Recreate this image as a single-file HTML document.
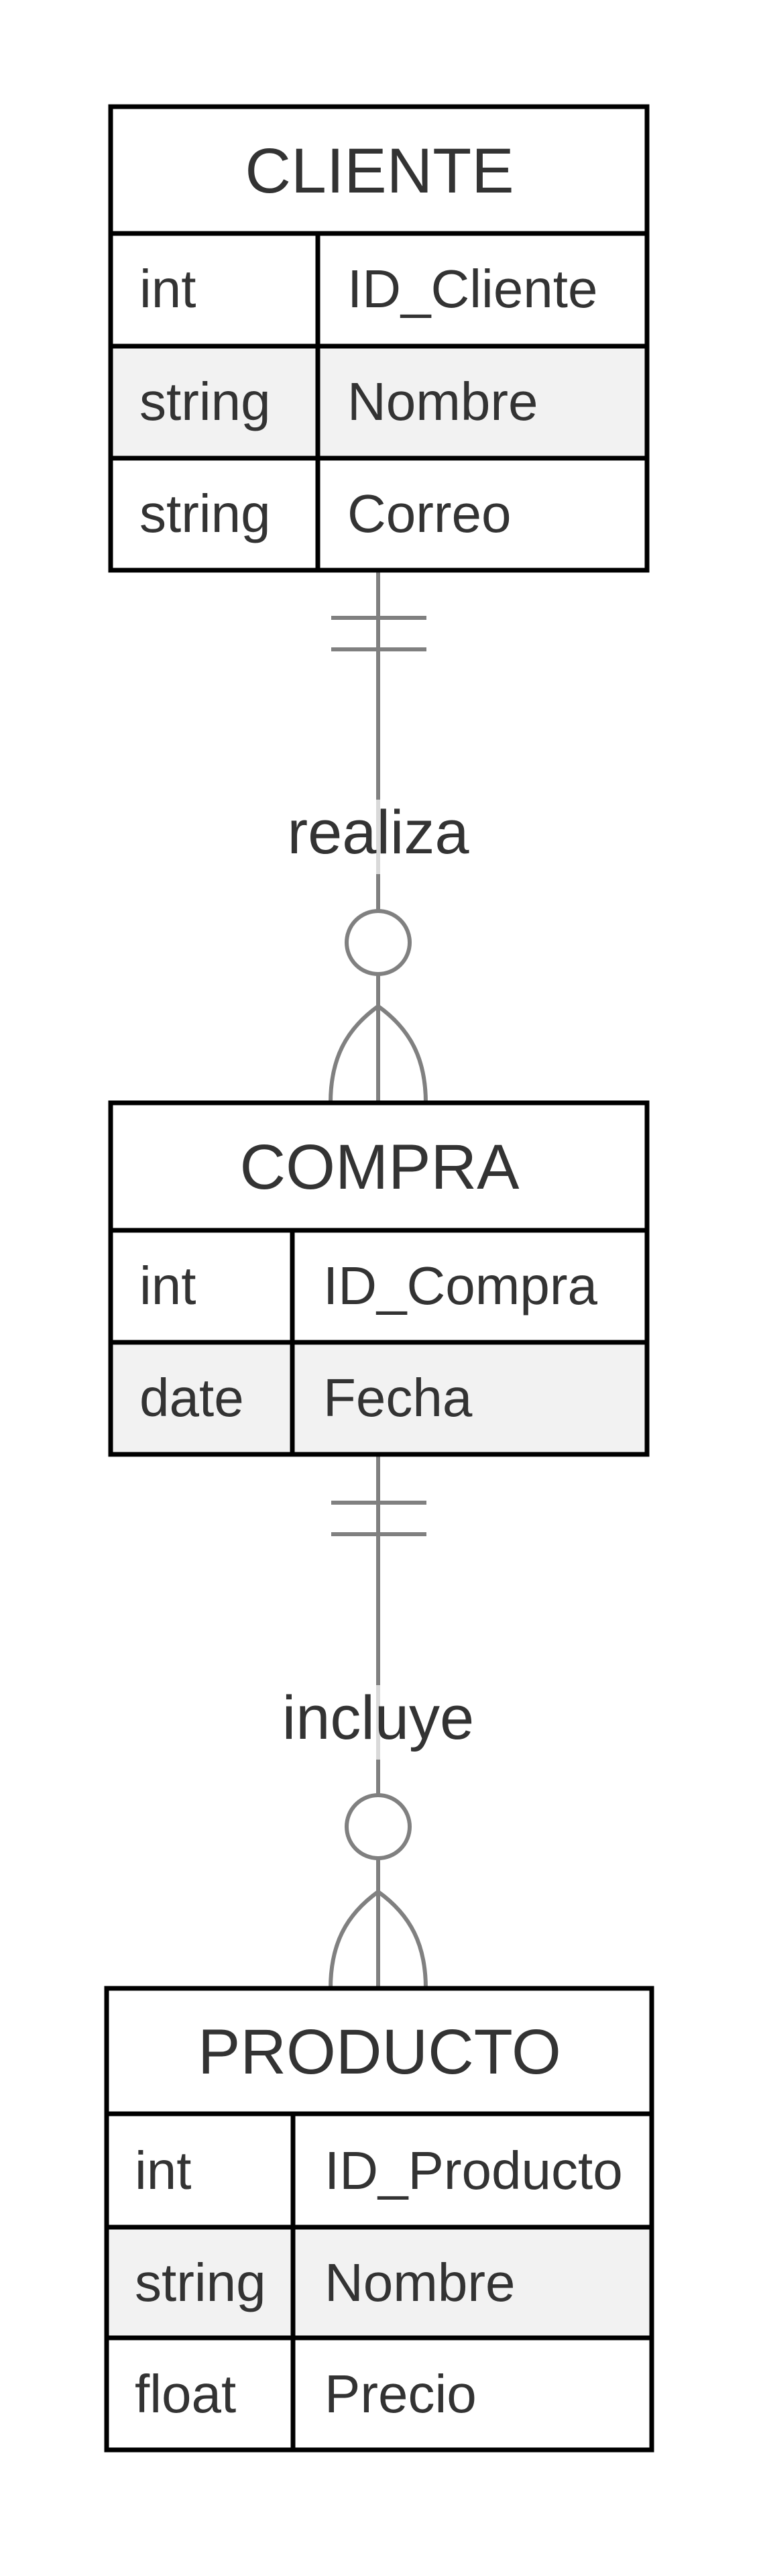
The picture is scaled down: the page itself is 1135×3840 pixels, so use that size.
<!DOCTYPE html>
<html><head><meta charset="utf-8"><style>
html,body{margin:0;padding:0;background:#fff;}
svg{display:block;}
text{font-family:"Liberation Sans",Arial,sans-serif;fill:#333;}
</style></head><body>
<svg width="1135" height="3840" viewBox="0 0 1135 3840" xmlns="http://www.w3.org/2000/svg">
<rect width="1135" height="3840" fill="#fff"/>
<g stroke="#808080" stroke-width="6" fill="none">
  <line x1="564" y1="850" x2="564" y2="1644"/>
  <line x1="494" y1="921" x2="636" y2="921"/>
  <line x1="494" y1="968" x2="636" y2="968"/>
  <circle cx="564" cy="1405" r="47" fill="#fff"/>
  <path d="M564,1500 C515,1535 493,1580 493,1644"/>
  <path d="M564,1500 C613,1535 635,1580 635,1644"/>
  <line x1="564" y1="2168" x2="564" y2="2964"/>
  <line x1="494" y1="2240" x2="636" y2="2240"/>
  <line x1="494" y1="2287" x2="636" y2="2287"/>
  <circle cx="564" cy="2723" r="47" fill="#fff"/>
  <path d="M564,2820 C515,2855 493,2900 493,2964"/>
  <path d="M564,2820 C613,2855 635,2900 635,2964"/>
</g>
<rect x="540" y="1192" width="50" height="111" fill="#fff" fill-opacity="0.7"/>
<rect x="540" y="2512" width="50" height="111" fill="#fff" fill-opacity="0.7"/>
<text x="564" y="1272" font-size="92" text-anchor="middle">realiza</text>
<text x="564" y="2592" font-size="92" text-anchor="middle">incluye</text>

<!-- CLIENTE -->
<g stroke="#000" stroke-width="7">
  <rect x="165" y="159" width="800" height="691" fill="#fff"/>
  <rect x="165" y="516" width="800" height="167" fill="#f2f2f2"/>
  <line x1="165" y1="348" x2="965" y2="348"/>
  <line x1="474" y1="348" x2="474" y2="850"/>
</g>
<text x="566" y="287" font-size="95" text-anchor="middle">CLIENTE</text>
<g font-size="80">
<text x="208" y="458">int</text><text x="518" y="458">ID_Cliente</text>
<text x="208" y="626">string</text><text x="518" y="626">Nombre</text>
<text x="208" y="793">string</text><text x="518" y="793">Correo</text>
</g>

<!-- COMPRA -->
<g stroke="#000" stroke-width="7">
  <rect x="165" y="1644" width="800" height="524" fill="#fff"/>
  <rect x="165" y="2001" width="800" height="167" fill="#f2f2f2"/>
  <line x1="165" y1="1834" x2="965" y2="1834"/>
  <line x1="436" y1="1834" x2="436" y2="2168"/>
</g>
<text x="566" y="1772" font-size="95" text-anchor="middle">COMPRA</text>
<g font-size="80">
<text x="208" y="1944">int</text><text x="482" y="1944">ID_Compra</text>
<text x="208" y="2111">date</text><text x="482" y="2111">Fecha</text>
</g>

<!-- PRODUCTO -->
<g stroke="#000" stroke-width="7">
  <rect x="159" y="2964" width="813" height="688" fill="#fff"/>
  <rect x="159" y="3320" width="813" height="165" fill="#f2f2f2"/>
  <line x1="159" y1="3151" x2="972" y2="3151"/>
  <line x1="437" y1="3151" x2="437" y2="3652"/>
</g>
<text x="566" y="3091" font-size="95" text-anchor="middle">PRODUCTO</text>
<g font-size="80">
<text x="201" y="3263">int</text><text x="484" y="3263">ID_Producto</text>
<text x="201" y="3430">string</text><text x="484" y="3430">Nombre</text>
<text x="201" y="3596">float</text><text x="484" y="3596">Precio</text>
</g>
</svg>
</body></html>
